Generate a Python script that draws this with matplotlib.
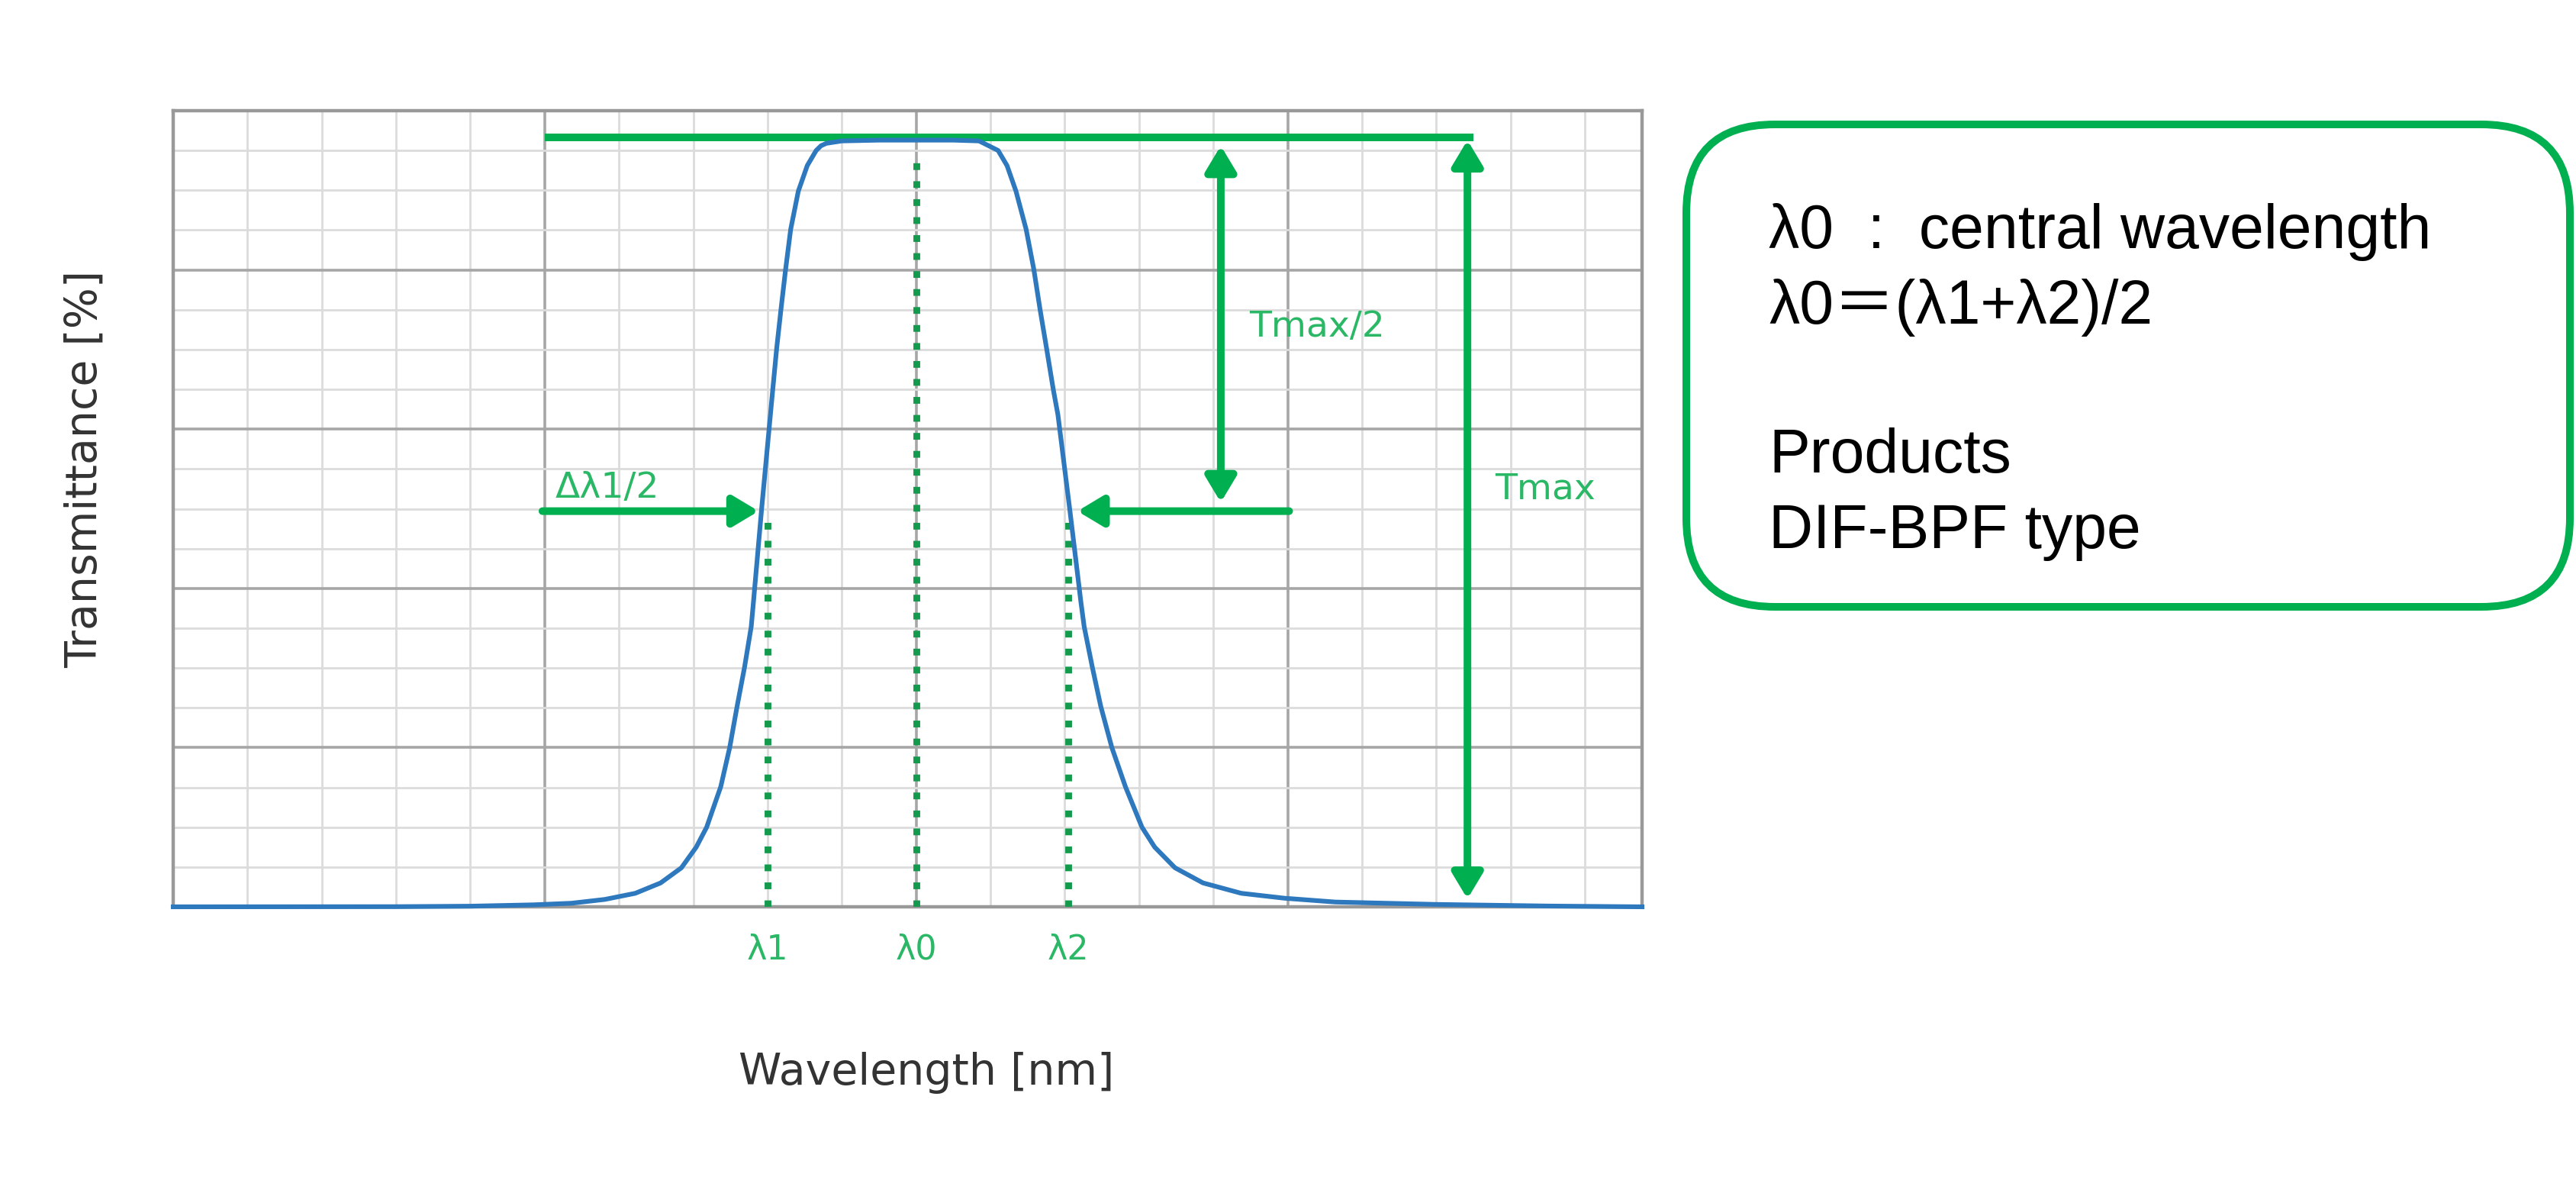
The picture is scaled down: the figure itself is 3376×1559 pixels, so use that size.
import matplotlib
matplotlib.use('Agg')
import matplotlib.pyplot as plt
from matplotlib.patches import FancyBboxPatch

# transmittance curve (x in grid units, y in %)
wl = [0.0, 3.0, 4.0, 4.85, 5.36, 5.81, 6.22, 6.56, 6.84, 7.04, 7.18, 7.37,
      7.49, 7.59, 7.69, 7.78, 7.81, 7.92, 8.0, 8.07, 8.123, 8.181, 8.243,
      8.311, 8.414, 8.534, 8.654, 8.72, 8.791, 9.0, 9.5, 10.0, 10.5, 10.846,
      11.103, 11.223, 11.343, 11.48, 11.583, 11.668, 11.754, 11.847, 11.908,
      12.07, 12.217, 12.261, 12.371, 12.484, 12.634, 12.816, 13.039, 13.21,
      13.484, 13.861, 14.375, 14.957, 15.642, 17.0, 18.5, 19.77]
trans = [0.0, 0.02, 0.08, 0.25, 0.45, 0.93, 1.7, 3.0, 4.9, 7.5, 10.0, 15.1,
         20.0, 25.2, 30.1, 35.2, 38.3, 50.0, 58.0, 65.0, 70.2, 75.1, 80.1,
         85.1, 89.9, 93.1, 95.0, 95.6, 95.9, 96.2, 96.3, 96.3, 96.3, 96.2,
         95.0, 93.1, 89.9, 85.1, 80.1, 75.0, 70.2, 64.9, 61.8,
         49.7, 38.3, 35.2, 30.1, 25.2, 20.0, 15.1, 10.0, 7.5,
         4.9, 3.0, 1.7, 1.08, 0.6, 0.3, 0.1, 0.0]

# marker positions
lam1, lam0, lam2 = 8.0, 10.0, 12.05
t_max = 96.6
t_half = 49.7
x_max = 19.77

box_lines = ['λ0  :  central wavelength', 'λ0＝(λ1+λ2)/2', 'Products', 'DIF-BPF type']
box_baselines = [0.7915, 0.728, 0.603, 0.5395]

GREEN = '#00b050'
GREEN_TXT = '#2bb866'
GREEN_DOT = '#149a4c'
BLUE = '#2e78be'

fig = plt.figure(figsize=(16.88, 7.795), dpi=200)
ax = fig.add_axes([227 / 3376, 1 - 1188 / 1559, (2152 - 227) / 3376, (1188 - 145) / 1559])

ax.set_xlim(0, x_max)
ax.set_ylim(0, 100)
ax.set_xticks([0, 5, 10, 15])
ax.set_xticks(range(0, 20), minor=True)
ax.set_yticks(range(0, 101, 20))
ax.set_yticks(range(0, 101, 5), minor=True)
ax.tick_params(which='both', length=0, labelbottom=False, labelleft=False)
ax.grid(which='major', color='#a6a6a6', lw=1.3)
ax.grid(which='minor', color='#dcdcdc', lw=1.0)
ax.set_axisbelow(True)
for s in ax.spines.values():
    s.set_color('#999999')
    s.set_linewidth(1.6)

# curve
ax.plot(wl, trans, color=BLUE, lw=2.2, clip_on=False, zorder=4,
        solid_joinstyle='round')

# Tmax line
ax.plot([5.0, 17.5], [t_max, t_max], color=GREEN, lw=3.6, solid_capstyle='butt', zorder=3)

# dotted guides
ax.plot([lam1, lam1], [0, t_half], ':', color=GREEN_DOT, lw=3.2, zorder=3)
ax.plot([lam0, lam0], [0, 94.8], ':', color=GREEN_DOT, lw=3.2, zorder=3)
ax.plot([lam2, lam2], [0, t_half], ':', color=GREEN_DOT, lw=3.2, zorder=3)

head = '-|>,head_length=0.5,head_width=0.3'
dhead = '<|-|>,head_length=0.5,head_width=0.3'
arrow_kw = dict(color=GREEN, lw=3.6, mutation_scale=20, shrinkA=0, shrinkB=0)
ax.annotate('', xy=(7.88, t_half), xytext=(4.97, t_half),
            arrowprops=dict(arrowstyle=head, **arrow_kw))
ax.annotate('', xy=(12.17, t_half), xytext=(15.02, t_half),
            arrowprops=dict(arrowstyle=head, **arrow_kw))
ax.annotate('', xy=(14.1, 95.6), xytext=(14.1, 50.8),
            arrowprops=dict(arrowstyle=dhead, **arrow_kw))
ax.annotate('', xy=(17.42, 96.3), xytext=(17.42, 1.0),
            arrowprops=dict(arrowstyle=dhead, **arrow_kw))

# annotation labels
ax.text(5.14, 51.4, 'Δλ1/2', color=GREEN_TXT, fontsize=17, va='baseline', ha='left')
ax.text(14.48, 72.8, 'Tmax/2', color=GREEN_TXT, fontsize=17, va='center', ha='left')
ax.text(17.79, 52.4, 'Tmax', color=GREEN_TXT, fontsize=17, va='center', ha='left')
for x, lab in [(lam1, 'λ1'), (lam0, 'λ0'), (lam2, 'λ2')]:
    ax.text(x, -5.4, lab, color=GREEN_TXT, fontsize=16, ha='center', va='center',
            clip_on=False)

ax.set_xlabel('Wavelength [nm]', fontsize=20.5, color='#333333', va='center')
ax.xaxis.set_label_coords(0.513, -0.209)
ax.set_ylabel('Transmittance [%]', fontsize=20.5, color='#333333', va='center')
ax.yaxis.set_label_coords(-0.06, 0.55)

# info box on the right
box = FancyBboxPatch((11.05, 3.82), 5.79, 3.16,
                     boxstyle='round,pad=0,rounding_size=0.58',
                     transform=fig.dpi_scale_trans, fill=False,
                     ec=GREEN, lw=3.6)
fig.patches.append(box)
for txt, yb in zip(box_lines, box_baselines):
    fig.text(0.6866, yb, txt, fontsize=29, color='black', va='baseline', ha='left',
             family=['Liberation Sans', 'Noto Sans CJK JP'])

fig.savefig('out.png', dpi=200)
plt.close(fig)
